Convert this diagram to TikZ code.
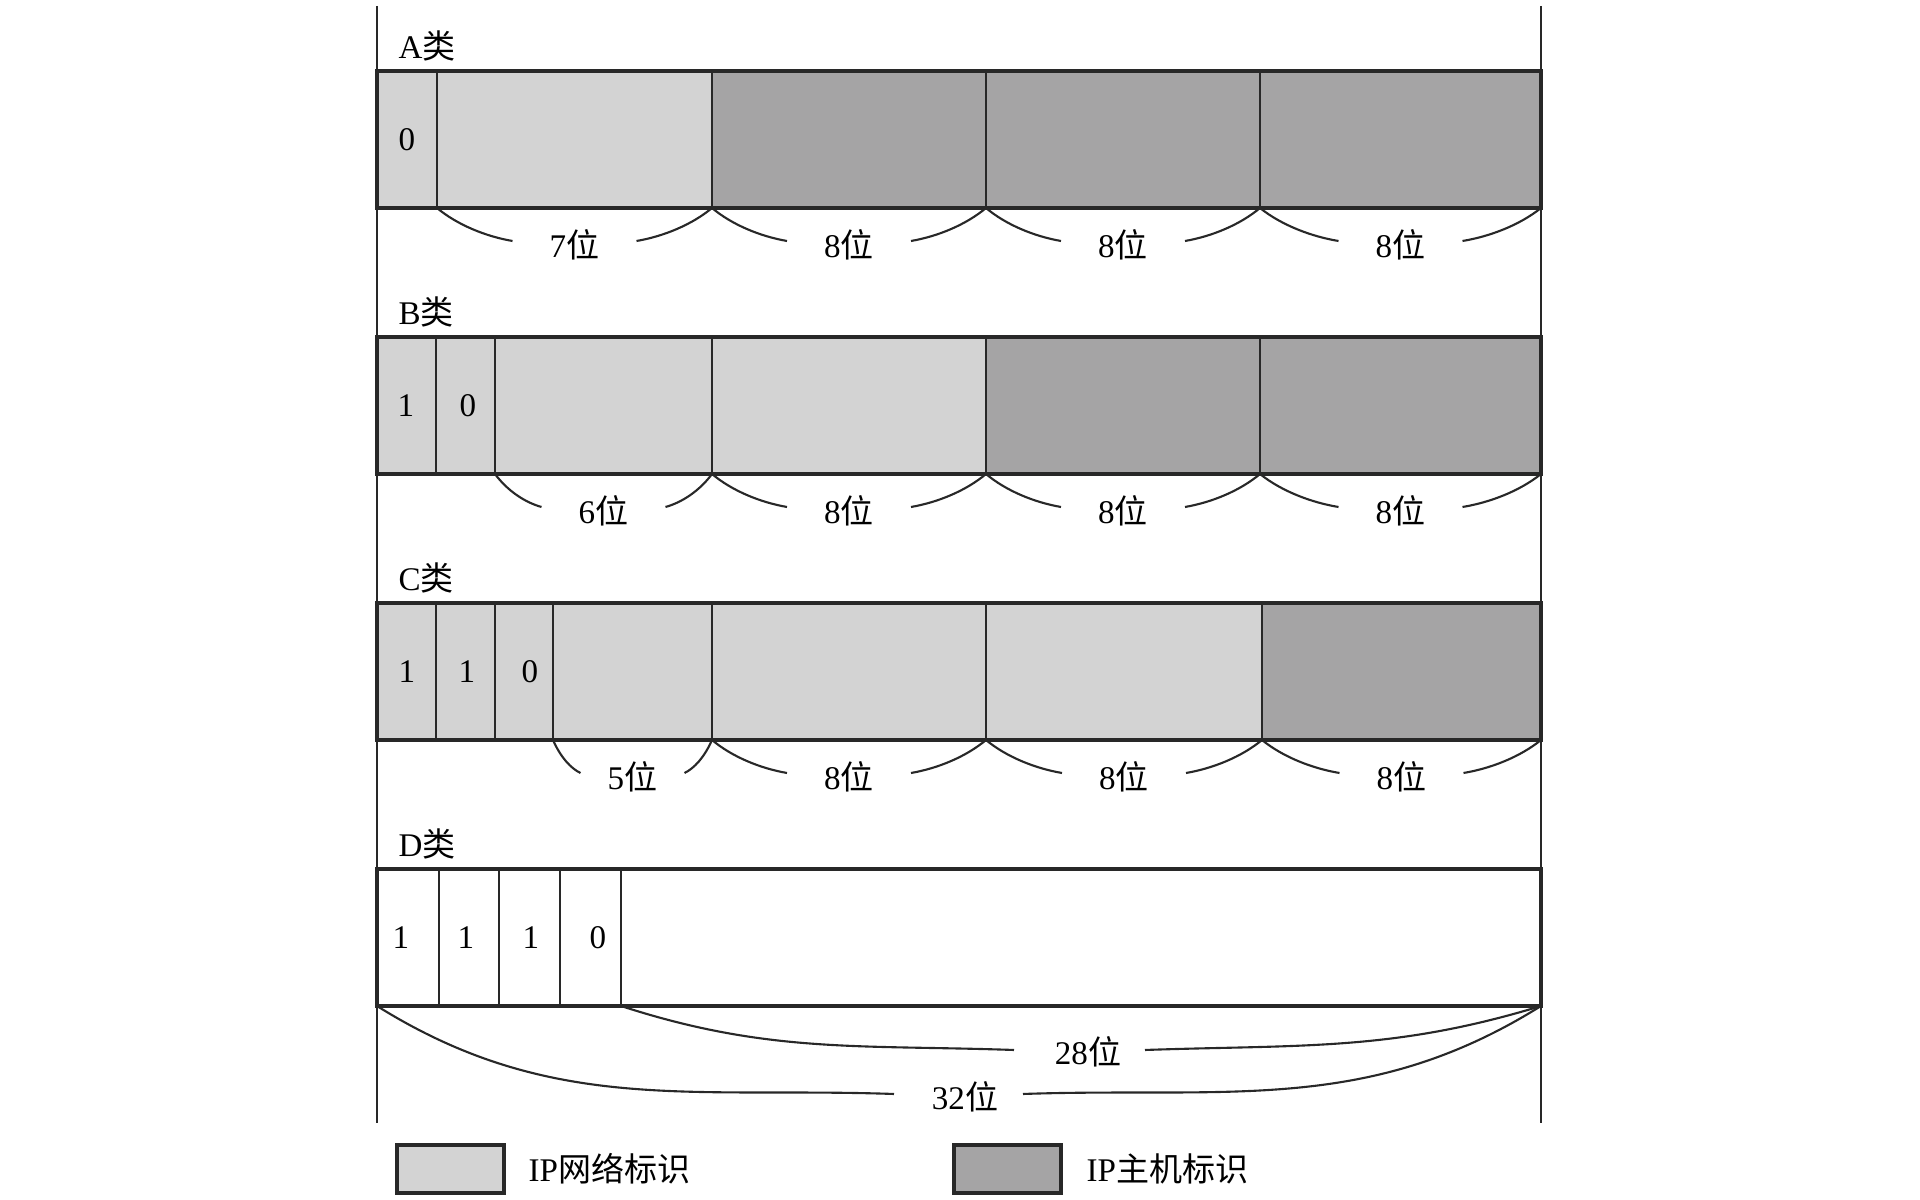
\documentclass[tikz,border=0pt]{standalone}
\usepackage{fontspec}
\setmainfont{Liberation Serif}
\newfontfamily\cjk{Noto Sans CJK SC}
\newcommand{\zh}[1]{{\cjk #1}}
\usetikzlibrary{calc}
\definecolor{netgray}{RGB}{211,211,211}
\definecolor{hostgray}{RGB}{165,164,165}
\definecolor{linegray}{RGB}{40,40,40}
\tikzset{
  netcell/.style={fill=netgray},
  hostcell/.style={fill=hostgray},
  frame/.style={draw=linegray,line width=0.95pt},
  sep/.style={draw=linegray,line width=0.55pt},
  side/.style={draw=linegray,line width=0.4pt},
  brace/.style={draw=linegray,line width=0.6pt},
  lbl/.style={inner sep=0pt,font=\fontsize{9.4}{11}\selectfont}
}
% brace under a field: [half gap], name, left x, right x, bottom y, text
\newcommand{\bitbrace}[6][62]{%
  \pgfmathsetmacro{\bmid}{(#3+#4)/2}%
  \pgfmathsetmacro{\bl}{\bmid-#1}%
  \pgfmathsetmacro{\br}{\bmid+#1}%
  \pgfmathsetmacro{\bdx}{\bl-#3}%
  \pgfmathsetmacro{\ca}{0.27*\bdx}%
  \pgfmathsetmacro{\cb}{0.35*\bdx}%
  \pgfmathsetmacro{\by}{#5-33}%
  \pgfmathsetmacro{\bt}{#5-37}%
  \coordinate (#2L) at (#3,#5);
  \coordinate (#2R) at (#4,#5);
  \draw[brace] (#2L) .. controls +(\ca,-17) and +(-\cb,4.5) .. (\bl,\by);
  \draw[brace] (\br,\by) .. controls +(\cb,4.5) and +(-\ca,-17) .. (#2R);
  \node[lbl] (#2) at (\bmid,\bt) {#6};}

\begin{document}
\begin{tikzpicture}[x=0.01cm,y=0.01cm]
\useasboundingbox (0,0) rectangle (1920,1200);
\draw[side] (377,1194) -- (377,77);
\draw[side] (1541,1194) -- (1541,77);

% A
\node[lbl,anchor=west] (labA) at (398,1154) {A\zh{类}};
\fill[netcell] (377,992) rectangle (712,1129);
\fill[hostcell] (712,992) rectangle (1541,1129);
\draw[sep] (437,992) -- (437,1129);
\draw[sep] (712,992) -- (712,1129);
\draw[sep] (986,992) -- (986,1129);
\draw[sep] (1260,992) -- (1260,1129);
\draw[frame] (377,992) rectangle (1541,1129);
\node[lbl] (a1) at (407,1060.5) {0};
\bitbrace{ba1}{437}{712}{992}{7\zh{位}}
\bitbrace{ba2}{712}{986}{992}{8\zh{位}}
\bitbrace{ba3}{986}{1260}{992}{8\zh{位}}
\bitbrace{ba4}{1260}{1541}{992}{8\zh{位}}

% B
\node[lbl,anchor=west] (labB) at (398,888) {B\zh{类}};
\fill[netcell] (377,726) rectangle (986,863);
\fill[hostcell] (986,726) rectangle (1541,863);
\draw[sep] (436,726) -- (436,863);
\draw[sep] (495,726) -- (495,863);
\draw[sep] (712,726) -- (712,863);
\draw[sep] (986,726) -- (986,863);
\draw[sep] (1260,726) -- (1260,863);
\draw[frame] (377,726) rectangle (1541,863);
\node[lbl] (b1) at (406,794.5) {1};
\node[lbl] (b2) at (468,794.5) {0};
\bitbrace{bb1}{495}{712}{726}{6\zh{位}}
\bitbrace{bb2}{712}{986}{726}{8\zh{位}}
\bitbrace{bb3}{986}{1260}{726}{8\zh{位}}
\bitbrace{bb4}{1260}{1541}{726}{8\zh{位}}

% C
\node[lbl,anchor=west] (labC) at (398,622) {C\zh{类}};
\fill[netcell] (377,460) rectangle (1262,597);
\fill[hostcell] (1262,460) rectangle (1541,597);
\draw[sep] (436,460) -- (436,597);
\draw[sep] (495,460) -- (495,597);
\draw[sep] (553,460) -- (553,597);
\draw[sep] (712,460) -- (712,597);
\draw[sep] (986,460) -- (986,597);
\draw[sep] (1262,460) -- (1262,597);
\draw[frame] (377,460) rectangle (1541,597);
\node[lbl] (c1) at (407,528.5) {1};
\node[lbl] (c2) at (467,528.5) {1};
\node[lbl] (c3) at (530,528.5) {0};
\bitbrace[52]{bc1}{553}{712}{460}{5\zh{位}}
\bitbrace{bc2}{712}{986}{460}{8\zh{位}}
\bitbrace{bc3}{986}{1262}{460}{8\zh{位}}
\bitbrace{bc4}{1262}{1541}{460}{8\zh{位}}

% D
\node[lbl,anchor=west] (labD) at (398,356) {D\zh{类}};
\fill[white] (377,194) rectangle (1541,331);
\draw[sep] (439,194) -- (439,331);
\draw[sep] (499,194) -- (499,331);
\draw[sep] (560,194) -- (560,331);
\draw[sep] (621,194) -- (621,331);
\draw[frame] (377,194) rectangle (1541,331);
\node[lbl] (d1) at (401,262.5) {1};
\node[lbl] (d2) at (466,262.5) {1};
\node[lbl] (d3) at (531,262.5) {1};
\node[lbl] (d4) at (598,262.5) {0};
\coordinate (D0) at (377,194);
\coordinate (D4) at (621,194);
\coordinate (D32) at (1541,194);
\node[lbl] (b28) at (1088,148) {28\zh{位}};
\node[lbl] (b32) at (965,103) {32\zh{位}};
\draw[brace] (D4) to[out=-18,in=178] (1014,150);
\draw[brace] (1145,150) to[out=2,in=-163] (D32);
\draw[brace] (D0) to[out=-32,in=178] (894,106);
\draw[brace] (1023,106) to[out=2,in=-148] (D32);

% legend
\draw[frame,netcell] (397,7) rectangle (504,55);
\node[lbl,anchor=west] (keyN) at (528,31) {IP\zh{网络标识}};
\draw[frame,hostcell] (954,7) rectangle (1061,55);
\node[lbl,anchor=west] (keyH) at (1086,31) {IP\zh{主机标识}};
\end{tikzpicture}
\end{document}
